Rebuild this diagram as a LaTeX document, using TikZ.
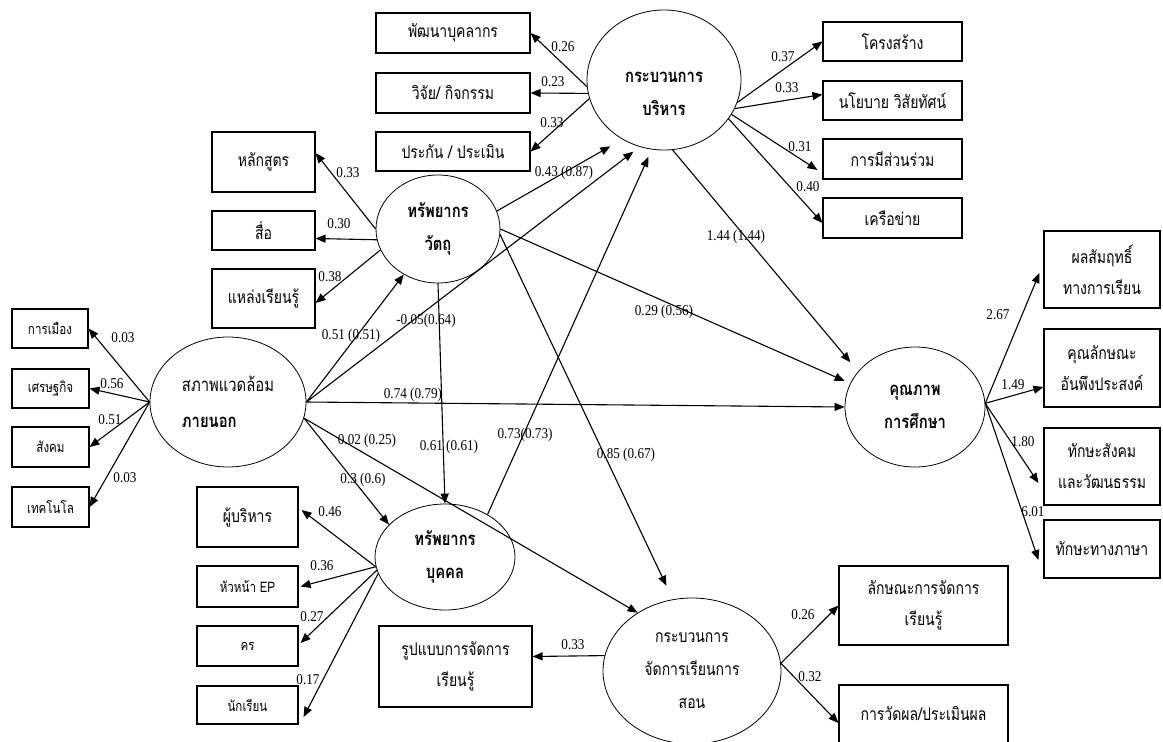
\documentclass[tikz,border=0pt]{standalone}
\usepackage{fontspec}
\usetikzlibrary{arrows.meta,shapes.geometric}
\newfontfamily\thai[Script=Thai, FakeStretch=0.8]{Loma}
\newfontfamily\numf[FakeStretch=0.88]{Liberation Serif}
\begin{document}
\begin{tikzpicture}[x=1pt,y=-1pt,
  ell/.style={ellipse, draw, line width=0.8pt, inner sep=0pt},
  ellt/.style={font=\thai\bfseries\fontsize{18.5}{33}\selectfont, align=center},
  box/.style={rectangle, draw, line width=1.1pt, inner sep=0pt, font=\thai\fontsize{17.5}{31}\selectfont, align=center},
  sbox/.style={box, font=\thai\fontsize{14.5}{16}\selectfont},
  num/.style={font=\numf\fontsize{15}{16}\selectfont, inner sep=0pt},
  arr/.style={draw, line width=1.1pt, -{Triangle[length=10pt,width=8pt]}},
]
\useasboundingbox[fill=white] (0,0) rectangle (1163,742);

% latent variables
\node[ell, minimum width=156pt, minimum height=130pt, align=left,
      font=\thai\fontsize{18.5}{36}\selectfont] (env) at (228,402)
      {สภาพแวดล้อม\\{\bfseries ภายนอก}};
\node[ell, ellt, minimum width=124pt, minimum height=108pt] (mat) at (438,229) {ทรัพยากร\\วัตถุ};
\node[ell, minimum width=154pt, minimum height=140pt,
      label={[ellt, yshift=-14pt]center:กระบวนการ\\บริหาร}] (adm) at (664,80) {};
\node[ell, ellt, minimum width=140pt, minimum height=120pt] (qual) at (915,407) {คุณภาพ\\การศึกษา};
\node[ell, ellt, minimum width=140pt, minimum height=106pt] (pers) at (445,557) {ทรัพยากร\\บุคคล};
\node[ell, minimum width=178pt, minimum height=146pt, align=center,
      font=\thai\fontsize{17.5}{33}\selectfont] (teach) at (692,671) {กระบวนการ\\จัดการเรียนการ\\สอน};

% indicators of env
\node[sbox, minimum width=76pt, minimum height=39pt] (polit) at (50,328.5) {การเมือง};
\node[sbox, minimum width=77pt, minimum height=39pt] (econ) at (50.5,388.5) {เศรษฐกิจ};
\node[sbox, minimum width=77pt, minimum height=40pt] (soc) at (50.5,447) {สังคม};
\node[sbox, minimum width=77pt, minimum height=40pt] (tech) at (50.5,507) {เทคโนโล};

% indicators of mat
\node[box, minimum width=103pt, minimum height=60pt] (curr) at (263.5,162) {หลักสูตร};
\node[box, minimum width=103pt, minimum height=39pt] (media) at (263.5,230.5) {สื่อ};
\node[box, minimum width=103pt, minimum height=59pt] (lsrc) at (263.5,298.5) {แหล่งเรียนรู้};

% indicators of adm (left)
\node[box, minimum width=154pt, minimum height=40pt] (dev) at (453,33) {พัฒนาบุคลากร};
\node[box, minimum width=154pt, minimum height=40pt] (res) at (453,93) {วิจัย/ กิจกรรม};
\node[box, minimum width=154pt, minimum height=39pt] (qa) at (453,151.5) {ประกัน / ประเมิน};

% indicators of adm (right)
\node[box, minimum width=139pt, minimum height=39pt] (struct) at (892.5,41.5) {โครงสร้าง};
\node[box, minimum width=139pt, minimum height=39pt] (policy) at (892.5,100.5) {นโยบาย วิสัยทัศน์};
\node[box, minimum width=139pt, minimum height=40pt] (part) at (892.5,159) {การมีส่วนร่วม};
\node[box, minimum width=139pt, minimum height=40pt] (net) at (892.5,218) {เครือข่าย};

% indicators of quality
\node[box, minimum width=116pt, minimum height=77pt] (ach) at (1102,269.5) {ผลสัมฤทธิ์\\ทางการเรียน};
\node[box, minimum width=116pt, minimum height=78pt] (char) at (1102,368) {คุณลักษณะ\\อันพึงประสงค์};
\node[box, minimum width=116pt, minimum height=77pt] (socs) at (1102,466.5) {ทักษะสังคม\\และวัฒนธรรม};
\node[box, minimum width=116pt, minimum height=58pt] (lang) at (1102,549) {ทักษะทางภาษา};

% indicators of personnel
\node[box, minimum width=101pt, minimum height=60pt] (exec) at (247.5,517) {ผู้บริหาร};
\node[sbox, minimum width=101pt, minimum height=41pt] (ephead) at (247.5,586.5) {หัวหน้า EP};
\node[sbox, minimum width=101pt, minimum height=40pt] (teacher) at (247.5,646) {คร};
\node[sbox, minimum width=101pt, minimum height=38pt] (stud) at (247.5,705) {นักเรียน};

% indicators of teaching
\node[box, minimum width=153pt, minimum height=81pt] (model) at (455.5,666.5) {รูปแบบการจัดการ\\เรียนรู้};
\node[box, minimum width=169pt, minimum height=79pt] (lchar) at (923.5,605.5) {ลักษณะการจัดการ\\เรียนรู้};
\node[box, minimum width=169pt, minimum height=58pt] (eval) at (923.5,714) {การวัดผล/ประเมินผล};

% measurement arrows
\draw[arr] (env.west) -- (polit.east);
\draw[arr] (env.west) -- (econ.east);
\draw[arr] (env.west) -- (soc.east);
\draw[arr] (env.west) -- (tech.east);
\node[num] at (123,338) {0.03};
\node[num] at (112,384) {0.56};
\node[num] at (110,420) {0.51};
\node[num] at (125,478) {0.03};

\draw[arr] (mat.west) -- ([yshift=9pt]curr.east);
\draw[arr] (mat.190) -- ([yshift=-8pt]media.east);
\draw[arr] (mat.200) -- ([yshift=-4.5pt]lsrc.east);
\node[num] at (348,173) {0.33};
\node[num] at (339,224) {0.30};
\node[num] at (330,277) {0.38};

\draw[arr] (adm.185) -- (dev.east);
\draw[arr] (adm.190) -- (res.east);
\draw[arr] (adm.194) -- (qa.east);
\node[num] at (563,47) {0.26};
\node[num] at (553,82) {0.23};
\node[num] at (552,123) {0.33};

\draw[arr] (adm.343) -- (struct.west);
\draw[arr] (adm.338) -- ([yshift=6pt]policy.west);
\draw[arr] (adm.333) -- ([yshift=-11pt,xshift=-5pt]part.west);
\draw[arr] (adm.329) -- ([yshift=-5pt]net.west);
\node[num] at (783,57) {0.37};
\node[num] at (787,88) {0.33};
\node[num] at (800,147) {0.31};
\node[num] at (808,187) {0.40};

\draw[arr] (qual.3) -- ([yshift=-3.5pt,xshift=-4pt]ach.west);
\draw[arr] (qual.3) -- ([yshift=-19pt]char.west);
\draw[arr] (qual.3) -- ([yshift=-16.5pt,xshift=-5pt]socs.west);
\draw[arr] (qual.3) -- ([yshift=-11pt,xshift=-5pt]lang.west);
\node[num] at (998,315) {2.67};
\node[num] at (1013,385) {1.49};
\node[num] at (1023,442) {1.80};
\node[num] at (1033,512) {6.01};

\draw[arr] (pers.188) -- ([yshift=7pt,xshift=3pt]exec.east);
\draw[arr] (pers.188) -- ([xshift=2pt]ephead.east);
\draw[arr] (pers.191) -- ([yshift=3pt,xshift=2pt]teacher.east);
\draw[arr] (pers.194) -- ([yshift=-12pt,xshift=5pt]stud.east);
\node[num] at (330,512) {0.46};
\node[num] at (322,566) {0.36};
\node[num] at (312,617) {0.27};
\node[num] at (308,680) {0.17};

\draw[arr] (teach.170) -- ([yshift=10pt]model.east);
\draw[arr] (teach.5) -- (lchar.west);
\draw[arr] (teach.5) -- ([yshift=-9pt]eval.west);
\node[num] at (573,645) {0.33};
\node[num] at (803,615) {0.26};
\node[num] at (810,677) {0.32};

% structural arrows
\draw[arr] (env.east) -- (mat.233);
\draw[arr, shorten >=8pt] (env.east) -- (adm.250);
\draw[arr] (env.east) -- (qual.west);
\draw[arr] (env.348) -- (pers.150);
\draw[arr] (env.348) -- (teach.133);
\draw[arr, shorten >=14pt] (mat.17) -- (adm.235);
\draw[arr, shorten >=6pt] (mat.east) -- (qual.160);
\draw[arr] (mat.south) -- (pers.north);
\draw[arr, shorten >=15pt] (mat.355) -- (teach.105);
\draw[arr, shorten >=12pt] (adm.277) -- (qual.148);
\draw[arr, shorten >=8pt] (pers.45) -- (adm.260);

\node[num] at (351,336) {0.51 (0.51)};
\node[num] at (426,321) {-0.05(0.64)};
\node[num] at (564,173) {0.43 (0.87)};
\node[num] at (413,395) {0.74 (0.79)};
\node[num] at (664,312) {0.29 (0.56)};
\node[num] at (736,237) {1.44 (1.44)};
\node[num] at (367,441) {0.02 (0.25)};
\node[num] at (363,480) {0.3 (0.6)};
\node[num] at (449,447) {0.61 (0.61)};
\node[num] at (525,435) {0.73(0.73)};
\node[num] at (626,455) {0.85 (0.67)};
\end{tikzpicture}
\end{document}
